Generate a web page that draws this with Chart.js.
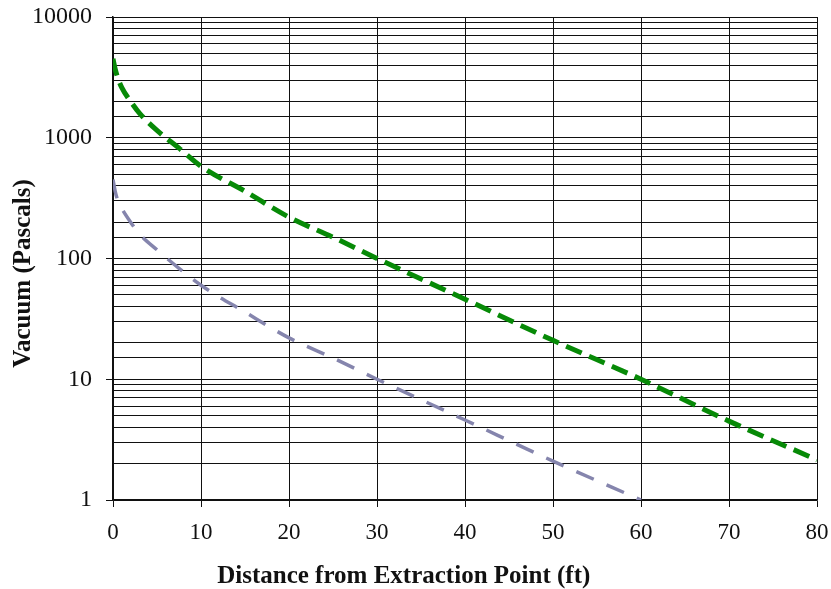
<!DOCTYPE html>
<html>
<head>
<meta charset="utf-8">
<script src="https://cdn.jsdelivr.net/npm/chart.js@4"></script>
<style>
  body { margin: 0; background: #fff; }
</style>
</head>
<body>
<canvas id="chart" width="831" height="589"></canvas>
<script>
// distance from extraction point (ft)
var distance = [0, 0.25, 0.5, 1, 2, 3, 5, 7.5, 10, 15, 20, 25, 30, 40, 50, 60, 70, 80];
// vacuum (Pa)
var vacuumHigh = [4500, 3700, 3200, 2600, 2000, 1600, 1150, 820, 580, 360, 220, 150, 100, 46, 21, 10, 4.5, 2.15];
var vacuumLow = [450, 360, 310, 260, 200, 160, 118, 83, 60, 36, 22, 15, 10, 4.6, 2.1, 1.0, null, null];
var yTickLabels = [1, 10, 100, 1000, 10000];

function toPoints(xs, ys) {
  var pts = [];
  for (var i = 0; i < xs.length; i++) {
    if (ys[i] != null) pts.push({ x: xs[i], y: ys[i] });
  }
  return pts;
}

var serif = "'Liberation Serif', 'Times New Roman', serif";

// axis titles sit a bit off centre in the original, so draw them here
var axisTitles = {
  id: 'axisTitles',
  afterDraw: function(chart) {
    var ctx = chart.ctx, a = chart.chartArea;
    ctx.save();
    ctx.font = "bold 25px " + serif;
    ctx.fillStyle = '#111';
    ctx.textAlign = 'center';
    ctx.textBaseline = 'middle';
    ctx.fillText('Distance from Extraction Point (ft)', a.left + (a.right - a.left) * 0.413, 577);
    ctx.translate(24, a.top + (a.bottom - a.top) * 0.531);
    ctx.rotate(-Math.PI / 2);
    ctx.fillText('Vacuum (Pascals)', 0, 0);
    ctx.restore();
  }
};

// no extra room for overflowing labels, the plot fills the frame
function noPad(scale) {
  scale.paddingTop = 0;
  scale.paddingBottom = 0;
  scale.paddingLeft = 0;
  scale.paddingRight = 0;
}

var context = document.getElementById('chart').getContext('2d');

var chart = new Chart(context, {
  type: 'line',
  data: {
    datasets: [{
      data: toPoints(distance, vacuumHigh),
      borderColor: '#078a07',
      borderWidth: 5,
      borderDash: [17, 8],
      pointRadius: 0,
      cubicInterpolationMode: 'monotone',
      fill: false
    }, {
      data: toPoints(distance, vacuumLow),
      borderColor: '#8585ad',
      borderWidth: 3.5,
      borderDash: [19, 14],
      pointRadius: 0,
      cubicInterpolationMode: 'monotone',
      fill: false
    }]
  },
  options: {
    responsive: false,
    animation: false,
    layout: { padding: { top: 17, right: 14, left: 0, bottom: 0 } },
    plugins: { legend: { display: false }, tooltip: { enabled: false } },
    scales: {
      x: {
        type: 'linear',
        min: 0,
        max: 80,
        afterFit: function(scale) { scale.height = 89; noPad(scale); },
        ticks: { stepSize: 10, padding: 12, color: '#111', font: { family: serif, size: 23 } },
        grid: { color: '#111', lineWidth: 1, tickLength: 7, tickColor: '#111' },
        border: { color: '#111', width: 1.5 }
      },
      y: {
        type: 'logarithmic',
        min: 1,
        max: 10000,
        afterFit: function(scale) { scale.width = 113; noPad(scale); },
        ticks: {
          autoSkip: false,
          padding: 14,
          color: '#111',
          font: { family: serif, size: 24 },
          callback: function(value) {
            return yTickLabels.indexOf(value) >= 0 ? String(value) : '';
          }
        },
        grid: {
          color: '#111',
          lineWidth: 1,
          tickLength: 7,
          tickColor: function(c) {
            return c.tick && yTickLabels.indexOf(c.tick.value) >= 0 ? '#111' : 'rgba(0,0,0,0)';
          }
        },
        border: { color: '#111', width: 1.5 }
      }
    }
  },
  plugins: [axisTitles]
});
</script>
</body>
</html>
